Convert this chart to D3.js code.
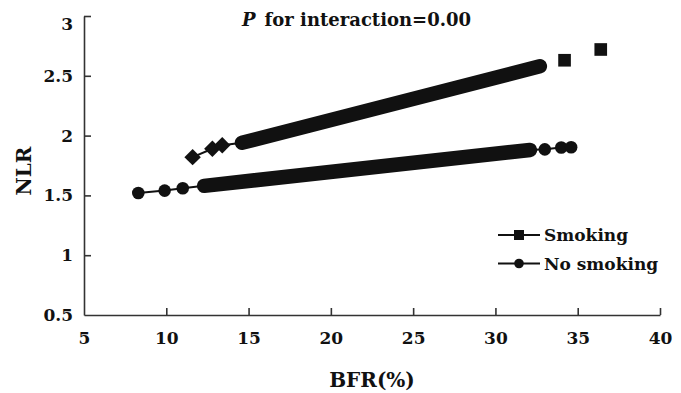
<!DOCTYPE html>
<html>
<head>
<meta charset="utf-8">
<script src="https://cdn.jsdelivr.net/npm/d3@7"></script>
<style>
  body { margin: 0; background: #fff; }
  text { font-family: "DejaVu Serif", "Liberation Serif", serif; font-weight: bold; fill: #111; }
</style>
</head>
<body>
<svg id="chart" width="681" height="393"></svg>
<script>
// BFR (%) vs NLR
const xTicks = [5, 10, 15, 20, 25, 30, 35, 40];
const yTicks = [0.5, 1, 1.5, 2, 2.5, 3];

// smoking: separate low points (diamonds), dense band ends, high points (squares)
const smokingLowBfr = [11.6, 12.8, 13.4];
const smokingLowNlr = [1.82, 1.89, 1.92];
const smokingBandBfr = [14.6, 32.7];
const smokingBandNlr = [1.94, 2.58];
const smokingHighBfr = [34.2, 36.4];
const smokingHighNlr = [2.63, 2.72];

// no smoking: circles on both sides of the dense band
const noSmokingLowBfr = [8.3, 9.9, 11.0];
const noSmokingLowNlr = [1.52, 1.54, 1.56];
const noSmokingBandBfr = [12.3, 32.1];
const noSmokingBandNlr = [1.58, 1.88];
const noSmokingHighBfr = [33.0, 34.0, 34.6];
const noSmokingHighNlr = [1.885, 1.9, 1.902];

const legendLabels = ['Smoking', 'No smoking'];

const ink = '#111';
const svg = d3.select('#chart');

const x = d3.scaleLinear().domain([5, 40]).range([84, 660]);
const y = d3.scaleLinear().domain([0.5, 3]).range([315, 16]);

const zip = (a, b) => a.map((v, i) => [v, b[i]]);

// axes
const xAxis = svg.append('g')
  .attr('transform', `translate(0,${y(0.5)})`)
  .call(d3.axisBottom(x).tickValues(xTicks).tickSizeInner(-7).tickSizeOuter(0).tickPadding(17));
const yAxis = svg.append('g')
  .attr('transform', `translate(${x(5)},0)`)
  .call(d3.axisLeft(y).tickValues(yTicks).tickSizeInner(-7).tickSizeOuter(0).tickPadding(11).tickFormat(d3.format('')));

[xAxis, yAxis].forEach(g => {
  g.select('.domain').attr('stroke', '#333').attr('stroke-width', 1.6);
  g.selectAll('.tick line').attr('stroke', '#333').attr('stroke-width', 1.6);
  g.selectAll('.tick text').attr('fill', ink).style('font-size', '17px');
});
xAxis.selectAll('.tick').filter(d => d === 5).select('line').remove();
yAxis.selectAll('.tick').filter(d => d === 0.5).select('line').remove();
yAxis.selectAll('.tick').filter(d => d === 3).select('text').attr('dy', '0.8em');

const line = d3.line().x(d => x(d[0])).y(d => y(d[1]));
const plot = svg.append('g');

// thin connecting lines
plot.append('path')
  .attr('d', line(zip(smokingLowBfr, smokingLowNlr).concat(zip(smokingBandBfr, smokingBandNlr))))
  .attr('fill', 'none').attr('stroke', ink).attr('stroke-width', 2);
plot.append('path')
  .attr('d', line(zip(noSmokingLowBfr, noSmokingLowNlr)
    .concat(zip(noSmokingBandBfr, noSmokingBandNlr))
    .concat(zip(noSmokingHighBfr, noSmokingHighNlr))))
  .attr('fill', 'none').attr('stroke', ink).attr('stroke-width', 2);

// dense bands of overlapping markers
plot.append('path')
  .attr('d', line(zip(smokingBandBfr, smokingBandNlr)))
  .attr('fill', 'none').attr('stroke', ink).attr('stroke-width', 14.5).attr('stroke-linecap', 'round');
plot.append('path')
  .attr('d', line(zip(noSmokingBandBfr, noSmokingBandNlr)))
  .attr('fill', 'none').attr('stroke', ink).attr('stroke-width', 14.5).attr('stroke-linecap', 'round');

// markers
plot.selectAll('.diamond')
  .data(zip(smokingLowBfr, smokingLowNlr))
  .join('path')
  .attr('class', 'diamond')
  .attr('transform', d => `translate(${x(d[0])},${y(d[1])}) rotate(45)`)
  .attr('d', d3.symbol(d3.symbolSquare, 135))
  .attr('fill', ink);

plot.selectAll('.square')
  .data(zip(smokingHighBfr, smokingHighNlr))
  .join('path')
  .attr('class', 'square')
  .attr('transform', d => `translate(${x(d[0])},${y(d[1])})`)
  .attr('d', d3.symbol(d3.symbolSquare, 160))
  .attr('fill', ink);

plot.selectAll('.dot')
  .data(zip(noSmokingLowBfr, noSmokingLowNlr).concat(zip(noSmokingHighBfr, noSmokingHighNlr)))
  .join('circle')
  .attr('class', 'dot')
  .attr('cx', d => x(d[0]))
  .attr('cy', d => y(d[1]))
  .attr('r', 6.3)
  .attr('fill', ink);

// legend
const legend = svg.append('g').attr('transform', 'translate(498,235)');
legendLabels.forEach((label, i) => {
  const row = legend.append('g').attr('transform', `translate(0,${i * 28.5})`);
  row.append('line').attr('x1', 0).attr('x2', 42).attr('stroke', ink).attr('stroke-width', 2);
  if (i === 0) {
    row.append('rect').attr('x', 16).attr('y', -5).attr('width', 10).attr('height', 10).attr('fill', ink);
  } else {
    row.append('circle').attr('cx', 21).attr('r', 4.8).attr('fill', ink);
  }
  row.append('text').attr('x', 46).attr('y', 6).style('font-size', '17px').text(label);
});

// title annotation
const title = svg.append('text').attr('x', 242).attr('y', 26).style('font-size', '18px');
title.append('tspan').style('font-style', 'italic').text('P');
title.append('tspan').attr('dx', 9).text('for interaction=0.00');

// axis titles
svg.append('text')
  .attr('x', 372).attr('y', 387)
  .attr('text-anchor', 'middle')
  .style('font-size', '20px')
  .text('BFR(%)');
svg.append('text')
  .attr('transform', 'translate(31,171) rotate(-90)')
  .attr('text-anchor', 'middle')
  .style('font-size', '20px')
  .text('NLR');
</script>
</body>
</html>
